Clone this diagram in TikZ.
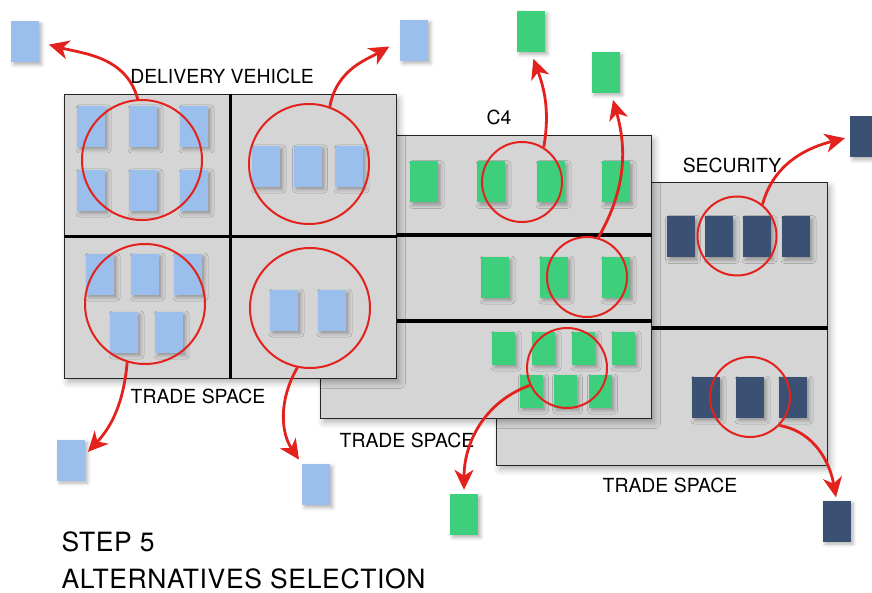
\documentclass[tikz,border=0pt]{standalone}
\usepackage{fontspec}
\setmainfont{TeX Gyre Heros}
\usepackage{xcolor}
\usetikzlibrary{positioning,calc,arrows.meta,shadows.blur}
\definecolor{sqblue}{HTML}{9BBFEC}
\definecolor{sqgreen}{HTML}{3DCF7B}
\definecolor{sqnavy}{HTML}{3A5173}
\definecolor{panelgray}{HTML}{D5D5D5}
\definecolor{ringred}{HTML}{E3221E}
\tikzset{
  figfont/.style={font=\fontsize{19.4}{22}\selectfont},
  figtitle/.style={font=\fontsize{26.5}{30}\selectfont\addfontfeatures{LetterSpace=2.5}},
  figpanel/.style={draw=black!85, line width=1pt, fill=panelgray, anchor=north west, inner sep=0pt,
    blur shadow={shadow xshift=3pt, shadow yshift=-4pt, shadow blur radius=6pt, shadow opacity=30}},
  figsquare/.style={inner sep=0pt, minimum width=28pt, minimum height=41pt,
    blur shadow={shadow xshift=2.5pt, shadow yshift=-2.5pt, shadow blur radius=3.5pt, shadow opacity=30}},
  figsqblue/.style={figsquare, fill=sqblue},
  figsqgreen/.style={figsquare, fill=sqgreen},
  figsqgreensmall/.style={figsqgreen, minimum width=23pt, minimum height=33pt},
  figsqnavy/.style={figsquare, fill=sqnavy},
  figring/.style={circle, draw=ringred, line width=2pt, inner sep=0pt},
  figdivider/.style={line width=3.5pt},
  figarrow/.style={-{Stealth[length=20pt, width=19pt, inset=6pt]}, draw=ringred, line width=2.8pt},
}
\begin{document}
\begin{tikzpicture}[x=1pt, y=-1pt, figfont]
  \useasboundingbox (0,0) rectangle (872,593);

  % Security panel (back)
  \node[figpanel, minimum width=331pt, minimum height=283pt] (sec) at (496,182) {};
  \draw[figdivider] ([yshift=-146pt]sec.north west) -- ([yshift=-146pt]sec.north east);
  \foreach \x [count=\i] in {680.5,719,757,796}
    \node[figsqnavy] (secA\i) at (\x,237) {};
  \foreach \x [count=\i] in {706,750,793}
    \node[figsqnavy] (secB\i) at (\x,397.5) {};
  \node[figring, minimum size=79pt] (secc1) at (737,236) {};
  \node[figring, minimum size=80pt] (secc2) at (750,397) {};

  % C4 panel (middle)
  \node[figpanel, minimum width=331pt, minimum height=283pt] (c4) at (320,135) {};
  \draw[figdivider] ([yshift=-100pt]c4.north west) -- ([yshift=-100pt]c4.north east);
  \draw[figdivider] ([yshift=-186pt]c4.north west) -- ([yshift=-186pt]c4.north east);
  \foreach \x [count=\i] in {424,491,551,616}
    \node[figsqgreen] (c4A\i) at (\x,182) {};
  \foreach \x [count=\i] in {495,554,616}
    \node[figsqgreen] (c4B\i) at (\x,277.5) {};
  \foreach \x [count=\i] in {503.5,543.5,583.5,623.5}
    \node[figsqgreensmall] (c4C\i) at (\x,348.5) {};
  \foreach \x [count=\i] in {531,565,600}
    \node[figsqgreensmall] (c4D\i) at (\x,391.5) {};
  \node[figring, minimum size=80pt] (c4c1) at (522,182) {};
  \node[figring, minimum size=80pt] (c4c2) at (587,277) {};
  \node[figring, minimum size=80pt] (c4c3) at (567,368) {};

  % Delivery vehicle panel (front)
  \node[figpanel, minimum width=332pt, minimum height=284pt] (dv) at (64,94) {};
  \draw[figdivider] (dv.north) -- (dv.south);
  \draw[figdivider] (dv.west) -- (dv.east);
  \foreach \x [count=\i] in {91,143,194} {
    \node[figsqblue] (dvA\i) at (\x,126.5) {};
    \node[figsqblue] (dvB\i) at (\x,190.5) {};
  }
  \foreach \x [count=\i] in {266,307.5,349}
    \node[figsqblue] (dvC\i) at (\x,166.5) {};
  \foreach \x [count=\i] in {100,145,188}
    \node[figsqblue] (dvD\i) at (\x,274.5) {};
  \foreach \x [count=\i] in {124,169}
    \node[figsqblue] (dvE\i) at (\x,332.5) {};
  \foreach \x [count=\i] in {284,332}
    \node[figsqblue] (dvF\i) at (\x,310.5) {};
  \node[figring, minimum size=120pt] (dvc1) at (142,160) {};
  \node[figring, minimum size=120pt] (dvc2) at (309,164) {};
  \node[figring, minimum size=120pt] (dvc3) at (145,304) {};
  \node[figring, minimum size=120pt] (dvc4) at (310,308) {};

  % Labels
  \node[anchor=base] (dvtitle) at (222,84) {DELIVERY VEHICLE};
  \node[anchor=base] (c4title) at (499,125) {C4};
  \node[anchor=base] (sectitle) at (732,173) {SECURITY};
  \node[anchor=base] (dvtrade) at (198,403) {TRADE SPACE};
  \node[anchor=base] (c4trade) at (407,447) {TRADE SPACE};
  \node[anchor=base] (sectrade) at (670,492) {TRADE SPACE};
  \node[figtitle, anchor=base west] (step) at (58,551) {STEP 5};
  \node[figtitle, anchor=base west] (select) at (58,588) {ALTERNATIVES SELECTION};

  % Selected alternatives
  \node[figsqblue] (dvo1) at (25,42) {};
  \node[figsqblue] (dvo2) at (414,40.5) {};
  \node[figsqblue] (dvo3) at (71,460) {};
  \node[figsqblue] (dvo4) at (316,484.5) {};
  \node[figsqgreen] (c4o1) at (531,31.5) {};
  \node[figsqgreen] (c4o2) at (605.5,72.5) {};
  \node[figsqgreen] (c4o3) at (464,514.5) {};
  \node[figsqnavy] (seco1) at (864,137) {};
  \node[figsqnavy] (seco2) at (836.5,521) {};

  % Selection arrows
  \draw[figarrow, shorten >=10pt] (dvc1.94) to[out=105, in=-15] (dvo1.east);
  \draw[figarrow, shorten >=12pt] (dvc2.70) to[out=80, in=-150] (dvo2.west);
  \draw[figarrow, shorten >=7pt] (c4c1.58) to[out=80, in=-70] (c4o1.south);
  \draw[figarrow, shorten >=7pt] (c4c2.74) to[out=60, in=-74] (c4o2.-75);
  \draw[figarrow, shorten >=5pt] (secc1.51) to[out=75, in=-166] (seco1.west);
  \draw[figarrow, shorten >=4pt] (c4c3.205) to[out=200, in=90] (c4o3.north);
  \draw[figarrow, shorten >=3pt] (secc2.-44) to[out=-10, in=100] (seco2.north);
  \draw[figarrow, shorten >=4pt] (dvc3.253) to[out=265, in=47] (dvo3.20);
  \draw[figarrow, shorten >=5pt] (dvc4.258) to[out=240, in=124] (dvo4.north west);
\end{tikzpicture}
\end{document}
